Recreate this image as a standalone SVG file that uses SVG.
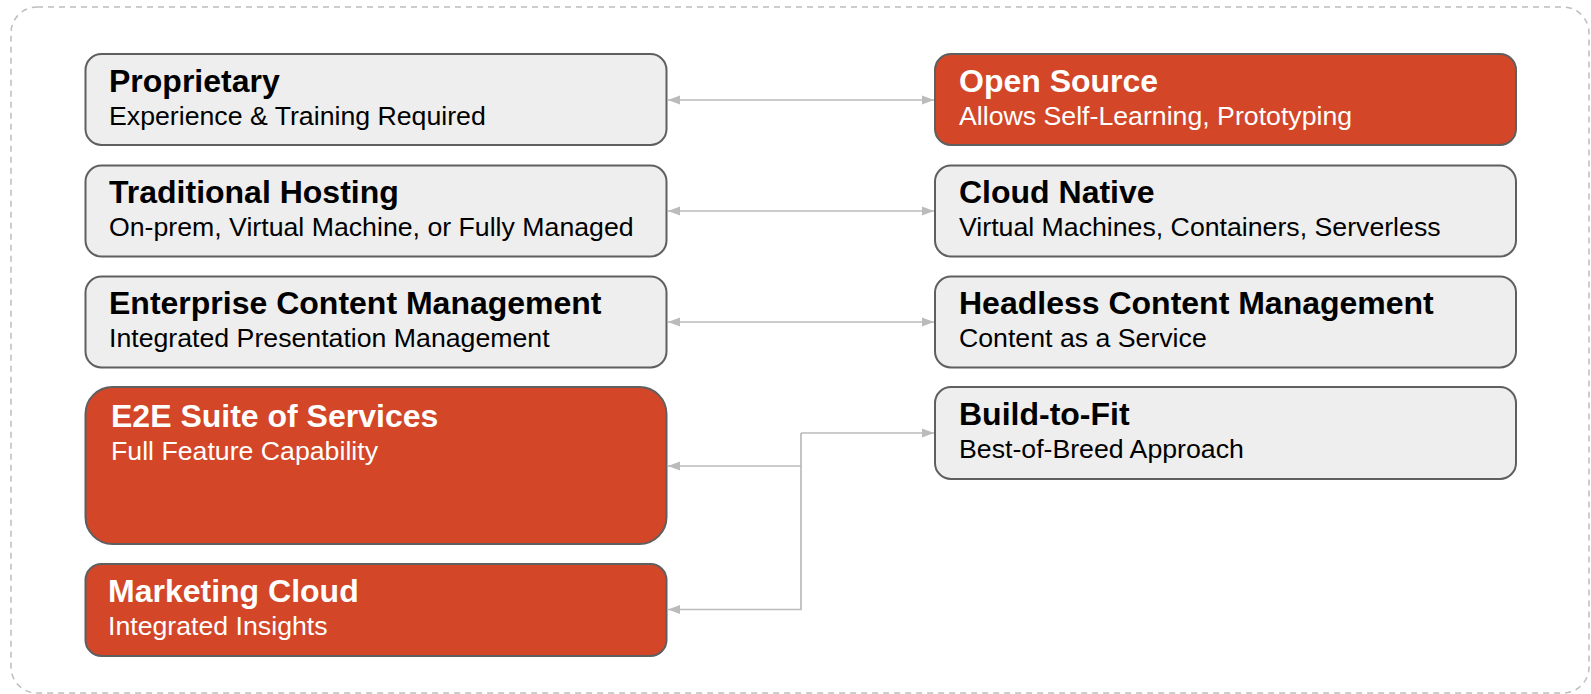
<svg xmlns="http://www.w3.org/2000/svg" width="1591" height="694" viewBox="0 0 1591 694">
<style>
.frame{fill:none;stroke:#bdbdbd;stroke-width:1.5;stroke-dasharray:6 5}
.g{fill:#eeeeee;stroke:#5f5f5f;stroke-width:2}
.r{fill:#d34628;stroke:#5f5f5f;stroke-width:2}
.t{font-family:"Liberation Sans",Arial,Helvetica,sans-serif;font-weight:bold;font-size:32px}
.s{font-family:"Liberation Sans",Arial,Helvetica,sans-serif;font-size:26.7px}
.dk{fill:#000}
.wt{fill:#fff}
.c{fill:none;stroke:#bbbbbb;stroke-width:1.7}
</style>
<defs>
<marker id="ah" viewBox="0 0 12 10" refX="12" refY="5" markerWidth="12" markerHeight="10" markerUnits="userSpaceOnUse" orient="auto-start-reverse">
<path d="M0,0.5 L12,5 L0,9.5 z" fill="#bbbbbb"/>
</marker>
</defs>
<rect class="frame" x="11" y="7" width="1578" height="686" rx="26" ry="26"/>
<g id="connectors">
<line class="c" x1="668" y1="100" x2="934" y2="100" marker-start="url(#ah)" marker-end="url(#ah)"/>
<line class="c" x1="668" y1="211" x2="934" y2="211" marker-start="url(#ah)" marker-end="url(#ah)"/>
<line class="c" x1="668" y1="322" x2="934" y2="322" marker-start="url(#ah)" marker-end="url(#ah)"/>
<polyline class="c" points="801,433 934,433" marker-end="url(#ah)"/>
<polyline class="c" points="801,433 801,466 668,466" marker-end="url(#ah)"/>
<polyline class="c" points="801,466 801,609.5 668,609.5" marker-end="url(#ah)"/>
</g>
<g id="proprietary">
<rect class="g" x="85.5" y="54" width="581" height="91" rx="16"/>
<text class="t dk" x="109" y="91.5">Proprietary</text>
<text class="s dk" x="109" y="124.5">Experience &amp; Training Required</text>
</g>
<g id="traditional-hosting">
<rect class="g" x="85.5" y="165.5" width="581" height="91" rx="16"/>
<text class="t dk" x="109" y="202.5">Traditional Hosting</text>
<text class="s dk" x="109" y="235.5">On-prem, Virtual Machine, or Fully Managed</text>
</g>
<g id="enterprise-cm">
<rect class="g" x="85.5" y="276.5" width="581" height="91" rx="16"/>
<text class="t dk" x="109" y="313.5">Enterprise Content Management</text>
<text class="s dk" x="109" y="346.5">Integrated Presentation Management</text>
</g>
<g id="e2e-suite">
<rect class="r" x="85.5" y="387" width="581" height="157" rx="27"/>
<text class="t wt" x="111" y="426.5">E2E Suite of Services</text>
<text class="s wt" x="111" y="459.5">Full Feature Capability</text>
</g>
<g id="marketing-cloud">
<rect class="r" x="85.5" y="564" width="581" height="92" rx="16"/>
<text class="t wt" x="108" y="601.5">Marketing Cloud</text>
<text class="s wt" x="108" y="634.5">Integrated Insights</text>
</g>
<g id="open-source">
<rect class="r" x="935" y="54" width="581" height="91" rx="16"/>
<text class="t wt" x="959" y="91.5">Open Source</text>
<text class="s wt" x="959" y="124.5">Allows Self-Learning, Prototyping</text>
</g>
<g id="cloud-native">
<rect class="g" x="935" y="165.5" width="581" height="91" rx="16"/>
<text class="t dk" x="959" y="202.5">Cloud Native</text>
<text class="s dk" x="959" y="235.5">Virtual Machines, Containers, Serverless</text>
</g>
<g id="headless-cm">
<rect class="g" x="935" y="276.5" width="581" height="91" rx="16"/>
<text class="t dk" x="959" y="313.5">Headless Content Management</text>
<text class="s dk" x="959" y="346.5">Content as a Service</text>
</g>
<g id="build-to-fit">
<rect class="g" x="935" y="387" width="581" height="92" rx="16"/>
<text class="t dk" x="959" y="424.5">Build-to-Fit</text>
<text class="s dk" x="959" y="457.5">Best-of-Breed Approach</text>
</g>
</svg>
